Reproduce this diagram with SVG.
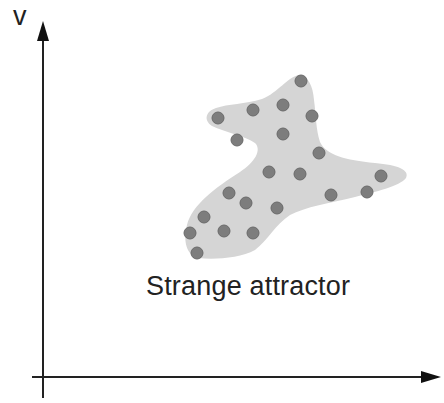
<svg xmlns="http://www.w3.org/2000/svg" width="444" height="403" viewBox="0 0 444 403">
<style>
.axis{stroke:#222;stroke-width:2;fill:none}
.head{fill:#111}
.dot{fill:#7d7d7d;stroke:#6a6a6a;stroke-width:1}
.lbl{font-family:"Liberation Sans",Arial,sans-serif;fill:#222}
</style>
<rect width="444" height="403" fill="#fff"/>
<g id="connectors">
<line class="axis" x1="43" y1="398" x2="43" y2="38"/>
<polygon class="head" points="43,21 37,41 49,41"/>
<line class="axis" x1="32" y1="377" x2="424" y2="377"/>
<polygon class="head" points="441,377 421,371 421,383"/>
</g>
<g id="v-label"><text class="lbl" x="13" y="25" font-size="27">v</text></g>
<g id="attractor">
<path fill="#d5d5d5" d="M300,75 C308,76 313,86 314,100 C316,115 316,130 320,142 C326,155 345,160 375,163 C398,165 410,170 406,178 C400,186 375,192 355,197 C330,203 305,207 290,215 C275,225 268,240 255,250 C240,258 215,260 198,258 C186,255 183,240 187,225 C192,205 215,188 240,172 C255,162 262,150 255,143 C245,136 225,132 212,126 C203,120 206,111 216,108 C228,104 245,104 262,99 C278,93 288,76 300,75 Z"/>
<circle class="dot" cx="301" cy="81" r="6"/>
<circle class="dot" cx="253" cy="110" r="6"/>
<circle class="dot" cx="283" cy="105" r="6"/>
<circle class="dot" cx="218" cy="118" r="6"/>
<circle class="dot" cx="312" cy="116" r="6"/>
<circle class="dot" cx="237" cy="140" r="6"/>
<circle class="dot" cx="283" cy="134" r="6"/>
<circle class="dot" cx="319" cy="153" r="6"/>
<circle class="dot" cx="269" cy="172" r="6"/>
<circle class="dot" cx="300" cy="174" r="6"/>
<circle class="dot" cx="381" cy="176" r="6"/>
<circle class="dot" cx="229" cy="193" r="6"/>
<circle class="dot" cx="246" cy="203" r="6"/>
<circle class="dot" cx="277" cy="208" r="6"/>
<circle class="dot" cx="331" cy="195" r="6"/>
<circle class="dot" cx="367" cy="192" r="6"/>
<circle class="dot" cx="204" cy="217" r="6"/>
<circle class="dot" cx="190" cy="233" r="6"/>
<circle class="dot" cx="224" cy="231" r="6"/>
<circle class="dot" cx="253" cy="233" r="6"/>
<circle class="dot" cx="197" cy="253" r="6"/>
</g>
<g id="label"><text class="lbl" x="146" y="295" font-size="27" textLength="204">Strange attractor</text></g>
</svg>
